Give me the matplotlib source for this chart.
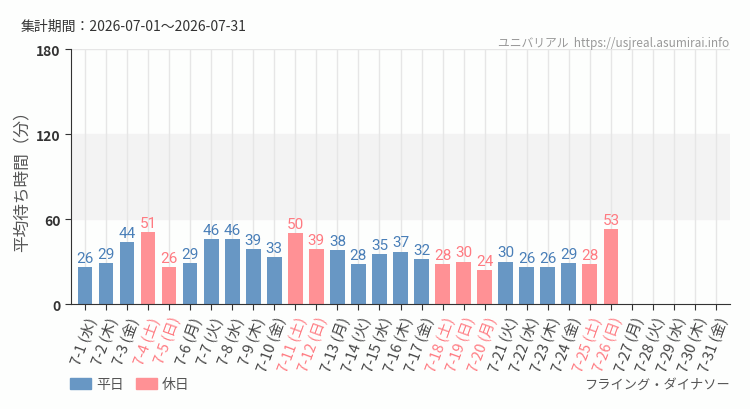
import matplotlib
matplotlib.use("Agg")
import matplotlib.pyplot as plt
import numpy as np

plt.rcParams['font.family'] = ['Noto Sans CJK JP', 'DejaVu Sans']

# データ
days = [f"7-{d}" for d in range(1, 32)]
weekdays = ["水", "木", "金", "土", "日", "月", "火"] * 5
weekdays = weekdays[:31]
wait = [26, 29, 44, 51, 26, 29, 46, 46, 39, 33, 50, 39, 38, 28, 35, 37, 32,
        28, 30, 24, 30, 26, 26, 29, 28, 53]
holidays = ["7-4", "7-5", "7-11", "7-12", "7-18", "7-19", "7-20", "7-25", "7-26"]

BLUE = "#6897c4"
PINK = "#ff9195"
BLUE_TXT = "#4a7fb8"
PINK_TXT = "#ff7b82"

fig = plt.figure(figsize=(7.5, 4.1), dpi=100)
fig.patch.set_facecolor("#fdfefd")
ax = fig.add_axes([0.095, 0.256, 0.878, 0.622])
ax.set_facecolor("#fdfefd")

x = np.arange(len(days))
ax.axhspan(60, 120, color="#f3f3f3", zorder=0)
for xi in x:
    ax.axvline(xi, color="#e6e6e6", lw=1, zorder=1)
ax.axhline(180, color="#e6e6e6", lw=1, zorder=1)

for i, v in enumerate(wait):
    hol = days[i] in holidays
    ax.bar(i, v, width=0.7, color=PINK if hol else BLUE, zorder=2)
    ax.text(i, v + 1.5, str(v), ha="center", va="bottom", fontsize=11,
            color=PINK_TXT if hol else BLUE_TXT, family="Roboto",
            zorder=3)

ax.set_xlim(-0.65, len(days) - 0.35)
ax.set_ylim(0, 180)
ax.set_yticks([0, 60, 120, 180])
ax.tick_params(axis="y", labelsize=10, length=4, colors="#333333")
ax.tick_params(axis="x", length=4, colors="#333333")
ax.set_xticks(x)
labels = [f"{d} ({w})" for d, w in zip(days, weekdays)]
ax.set_xticklabels(labels, rotation=70, ha="right", rotation_mode="anchor",
                   fontsize=10.5)
for lab, d in zip(ax.get_xticklabels(), days):
    lab.set_color(PINK_TXT if d in holidays else "#444444")
for lab in ax.get_yticklabels():
    lab.set_fontweight("bold")

for s in ["top", "right"]:
    ax.spines[s].set_visible(False)
ax.spines["left"].set_color("#333333")
ax.spines["bottom"].set_color("#333333")

ax.set_ylabel("平均待ち時間（分）", fontsize=12, color="#555555")
ax.yaxis.set_label_coords(-0.062, 0.5)

fig.text(0.027, 0.935, "集計期間：2026-07-01～2026-07-31", fontsize=10,
         color="#333333", va="center")
fig.text(0.973, 0.895, "ユニバリアル  https://usjreal.asumirai.info", fontsize=8.5,
         color="#999999", ha="right", va="center")
fig.text(0.973, 0.06, "フライング・ダイナソー", fontsize=9.5, color="#555555",
         ha="right", va="center")

# 凡例
fig.patches.append(plt.Rectangle((0.093, 0.048), 0.028, 0.028, color=BLUE,
                                 transform=fig.transFigure, figure=fig))
fig.text(0.128, 0.062, "平日", fontsize=10, color="#555555", va="center")
fig.patches.append(plt.Rectangle((0.181, 0.048), 0.028, 0.028, color=PINK,
                                 transform=fig.transFigure, figure=fig))
fig.text(0.216, 0.062, "休日", fontsize=10, color="#555555", va="center")

plt.savefig("out.png", dpi=100, facecolor=fig.get_facecolor())
